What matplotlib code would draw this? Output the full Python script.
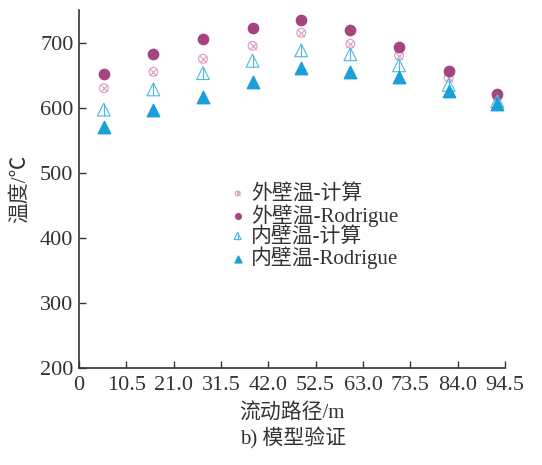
import matplotlib.pyplot as plt
from matplotlib.legend_handler import HandlerTuple
import numpy as np

plt.rcParams['font.family'] = ['Liberation Serif', 'Noto Sans CJK SC']
plt.rcParams['axes.unicode_minus'] = False

# flow path positions (m)
path = [5.5, 16.5, 27.5, 38.5, 49.3, 60.2, 71.0, 82.0, 92.8]

# temperatures (°C)
outer_calc = [630, 655, 675, 695, 715, 698, 680, 646, 616]
outer_rod = [651, 683, 705, 722, 735, 719, 693, 657, 621]
inner_calc = [597, 628, 653, 672, 688, 682, 665, 635, 610]
inner_rod = [571, 596, 616, 639, 661, 655, 647, 626, 605]

xticks = [0, 10.5, 21.0, 31.5, 42.0, 52.5, 63.0, 73.5, 84.0, 94.5]
xticklabels = ['0', '10.5', '21.0', '31.5', '42.0', '52.5', '63.0', '73.5', '84.0', '94.5']
yticks = [200, 300, 400, 500, 600, 700]

pink = '#d99cc0'
purple = '#a54480'
light_blue = '#4cb8e0'
blue = '#1a9fd6'

fig = plt.figure(figsize=(5.42, 4.65), dpi=100)
ax = fig.add_axes([0.1458, 0.2086, 0.7859, 0.7699])

h1a = ax.scatter(path, outer_calc, s=40, marker='o', facecolors='none', edgecolors=pink,
                 linewidths=0.8, zorder=3)
h1b = ax.scatter(path, outer_calc, s=25, marker='x', color=pink, linewidths=0.8, zorder=3)
h2 = ax.scatter(path, outer_rod, s=55, marker='o', color=purple, zorder=3)
h3a = ax.scatter(path, inner_calc, s=85, marker='^', facecolors='none', edgecolors=light_blue,
                 linewidths=0.8, zorder=3)
h3b = ax.scatter(path, inner_calc, s=85, marker='|', color=light_blue, linewidths=0.8, zorder=3)
h4 = ax.scatter(path, inner_rod, s=80, marker='^', color=blue, zorder=3)

ax.set_xlim(0, 94.5)
ax.set_ylim(200, 750)
ax.set_xticks(xticks)
ax.set_xticklabels(xticklabels)
ax.set_yticks(yticks)
ax.tick_params(direction='in', length=5, width=1, labelsize=16, colors='#333333', pad=4)
ax.tick_params(axis='x', pad=6)
for side in ['top', 'right']:
    ax.spines[side].set_visible(False)
for side in ['left', 'bottom']:
    ax.spines[side].set_color('#333333')
    ax.spines[side].set_linewidth(1.2)

ax.set_ylabel('温度/℃', fontsize=15, color='#333333', labelpad=7)
ax.set_xlabel('流动路径/m', fontsize=15, color='#333333', labelpad=6)
fig.text(0.54, 0.058, 'b) 模型验证', ha='center', va='center', fontsize=15, color='#333333')

leg = ax.legend([(h1a, h1b), h2, (h3a, h3b), h4],
                ['外壁温-计算', '外壁温-Rodrigue', '内壁温-计算', '内壁温-Rodrigue'],
                handler_map={tuple: HandlerTuple(ndivide=1, pad=0)},
                loc='center', bbox_to_anchor=(0.55, 0.395), frameon=False, fontsize=15,
                handletextpad=0.2, labelspacing=0.0, handlelength=0.9, markerscale=0.55,
                borderaxespad=0)
for t in leg.get_texts():
    t.set_color('#333333')

fig.savefig('out.png', dpi=100)
